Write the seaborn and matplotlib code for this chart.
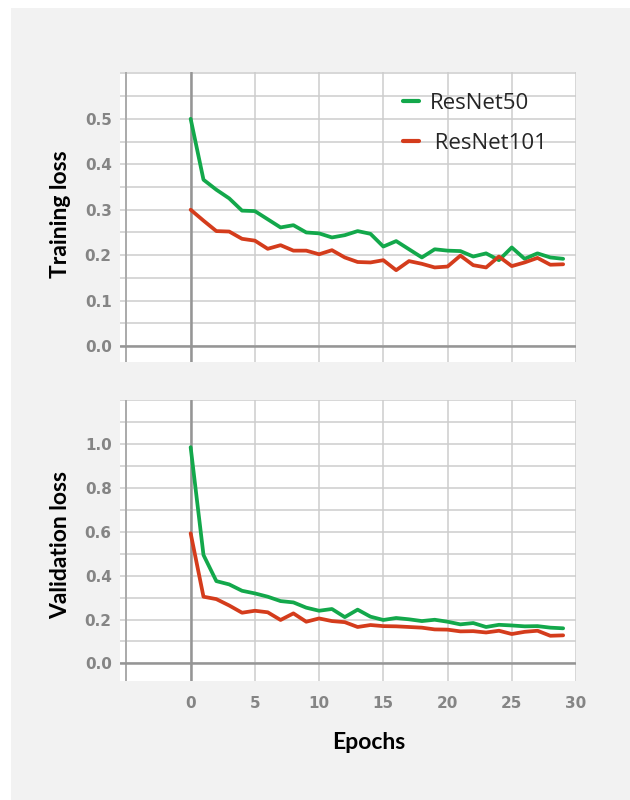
import matplotlib
matplotlib.use("Agg")
import matplotlib.pyplot as plt
import numpy as np
import pandas as pd
import seaborn as sns
from matplotlib.lines import Line2D
from matplotlib.patches import Rectangle
from matplotlib.ticker import FixedLocator, FormatStrFormatter

# ---- data -------------------------------------------------------------
epochs = list(range(30))

train_resnet50 = [0.500, 0.366, 0.344, 0.325, 0.298, 0.297, 0.279, 0.261, 0.266, 0.250,
                  0.248, 0.239, 0.244, 0.253, 0.247, 0.219, 0.231, 0.213, 0.195, 0.213,
                  0.210, 0.209, 0.197, 0.204, 0.189, 0.217, 0.192, 0.204, 0.195, 0.192]
train_resnet101 = [0.300, 0.276, 0.253, 0.252, 0.236, 0.232, 0.214, 0.222, 0.210, 0.210,
                   0.202, 0.211, 0.195, 0.185, 0.184, 0.189, 0.167, 0.187, 0.181, 0.173,
                   0.175, 0.199, 0.178, 0.173, 0.197, 0.176, 0.184, 0.194, 0.179, 0.180]

val_resnet50 = [0.985, 0.494, 0.375, 0.360, 0.331, 0.319, 0.304, 0.284, 0.278, 0.254,
                0.240, 0.248, 0.211, 0.245, 0.213, 0.198, 0.207, 0.201, 0.193, 0.199,
                0.190, 0.178, 0.184, 0.166, 0.176, 0.173, 0.169, 0.170, 0.163, 0.160]
val_resnet101 = [0.593, 0.304, 0.293, 0.264, 0.231, 0.240, 0.233, 0.198, 0.228, 0.190,
                 0.205, 0.193, 0.188, 0.166, 0.175, 0.170, 0.169, 0.166, 0.163, 0.155,
                 0.154, 0.146, 0.147, 0.141, 0.149, 0.134, 0.144, 0.149, 0.126, 0.128]

models = ["ResNet50", "ResNet101"]
legend_labels = ["ResNet50", " ResNet101"]
colors = {"ResNet50": "#13a84b", "ResNet101": "#d43c1c"}

x_ticks = [0, 5, 10, 15, 20, 25, 30]
train_ticks = [0.0, 0.1, 0.2, 0.3, 0.4, 0.5]
val_ticks = [0.0, 0.2, 0.4, 0.6, 0.8, 1.0]


def long_frame(a, b):
    return pd.DataFrame({
        "epoch": epochs + epochs,
        "loss": a + b,
        "model": [models[0]] * len(a) + [models[1]] * len(b),
    })


train_df = long_frame(train_resnet50, train_resnet101)
val_df = long_frame(val_resnet50, val_resnet101)

# ---- styling ----------------------------------------------------------
sns.set_theme(style="white")
plt.rcParams["font.family"] = ["DejaVu Sans"]

fig = plt.figure(figsize=(6.3, 8), dpi=100, facecolor="white")
fig.add_artist(Rectangle((11 / 630, 0), 1 - 11 / 630, 1 - 8 / 800,
                         transform=fig.transFigure, facecolor="#f2f2f2",
                         edgecolor="none", zorder=-10))

TICK_COLOR = "#858585"
GRID_COLOR = "#cdcdcd"
AXIS_COLOR = "#959595"


def style_axes(ax, ylim, major, minor, show_x):
    ax.set_facecolor("white")
    ax.set_xlim(-5.5, 30)
    ax.set_ylim(*ylim)
    ax.xaxis.set_major_locator(FixedLocator(x_ticks))
    ax.xaxis.set_minor_locator(FixedLocator([-5]))
    ax.yaxis.set_major_locator(FixedLocator(major))
    ax.yaxis.set_minor_locator(FixedLocator(minor))
    ax.yaxis.set_major_formatter(FormatStrFormatter("%.1f"))
    ax.set_axisbelow(True)
    ax.grid(which="both", color=GRID_COLOR, linewidth=1.1)
    ax.axvline(-5, color="#a8a8a8", linewidth=1.3, zorder=1.5)
    ax.axvline(0, color=AXIS_COLOR, linewidth=1.8, zorder=1.5)
    ax.axhline(0, color=AXIS_COLOR, linewidth=1.8, zorder=1.5)
    for s in ax.spines.values():
        s.set_visible(False)
    ax.tick_params(axis="both", which="both", length=0, colors=TICK_COLOR,
                   labelsize=11)
    ax.tick_params(axis="y", pad=6)
    ax.tick_params(axis="x", pad=11, labelbottom=show_x)
    for lbl in ax.get_xticklabels() + ax.get_yticklabels():
        lbl.set_fontweight("bold")
    ax.set_xlabel("")


ax1 = fig.add_axes([120 / 630, 1 - 362 / 800, 456 / 630, 290 / 800])
ax2 = fig.add_axes([120 / 630, 1 - 681 / 800, 456 / 630, 281 / 800])

sns.lineplot(data=train_df, x="epoch", y="loss", hue="model", palette=colors,
             linewidth=2.7, ax=ax1, legend=False)
sns.lineplot(data=val_df, x="epoch", y="loss", hue="model", palette=colors,
             linewidth=2.7, ax=ax2, legend=False)

style_axes(ax1, (-0.035, 0.603), train_ticks,
           [0.05, 0.15, 0.25, 0.35, 0.45, 0.55, 0.6], show_x=False)
style_axes(ax2, (-0.08, 1.2), val_ticks,
           [0.1, 0.3, 0.5, 0.7, 0.9, 1.1, 1.2], show_x=True)

label_font = dict(family=["Lato", "DejaVu Sans"], fontweight="bold",
                  fontsize=16.5, color="black")
ax1.set_ylabel("Training loss", **label_font)
ax2.set_ylabel("Validation loss", **label_font)
ax1.yaxis.set_label_coords(-0.108, 0.51)
ax2.yaxis.set_label_coords(-0.108, 0.485)
ax2.set_xlabel("Epochs", **label_font)
ax2.xaxis.set_label_coords(0.546, -0.182)

handles = [Line2D([0], [0], color=colors[m], linewidth=3) for m in models]
ax1.legend(handles, legend_labels, loc="upper left",
           bbox_to_anchor=(0.62, 0.928), frameon=False,
           prop=dict(family="Open Sans", size=16),
           handlelength=0.75, handletextpad=0.45, labelspacing=0.87,
           borderpad=0, borderaxespad=0)

fig.savefig("out.png", dpi=100, facecolor=fig.get_facecolor())
